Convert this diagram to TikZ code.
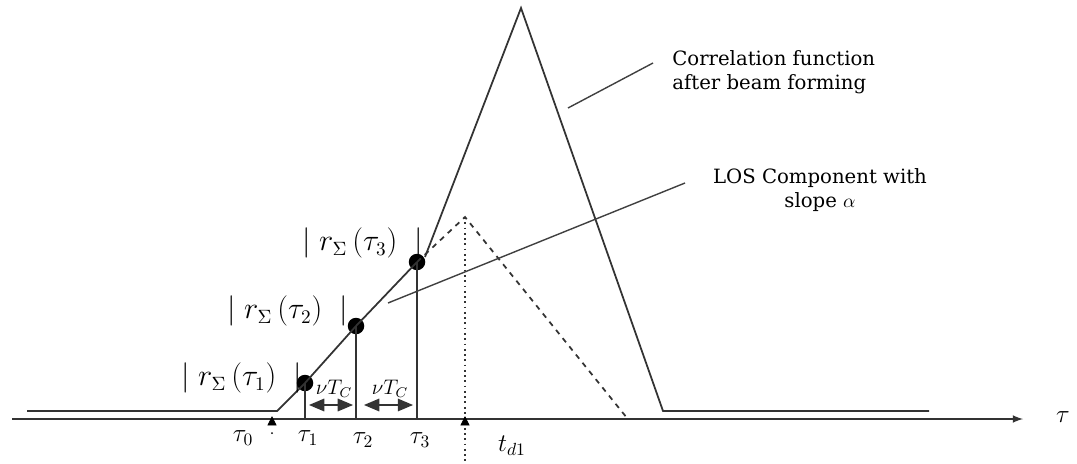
\documentclass[tikz,border=0pt]{standalone}
\usepackage{fontspec}
\setmainfont{DejaVu Serif}
\usetikzlibrary{calc, positioning, arrows}

\begin{document}
\begin{tikzpicture}[
    x=0.02cm, y=-0.02cm,
    curve/.style={line width=1pt, black!80},
    leader/.style={line width=0.8pt, black!75},
    dot/.style={circle, fill=black, inner sep=0pt, minimum size=0.33cm},
    note/.style={font=\fontsize{11.2}{13.5}\selectfont, align=left, inner sep=0pt},
    rlabel/.style={font=\fontsize{16}{18}\selectfont, inner sep=0pt, anchor=west},
    ticklabel/.style={font=\Large, inner sep=0pt},
    marker/.style={fill=black, inner sep=0pt}
]
    \useasboundingbox (0,0) rectangle (1077,463);

    % 1. Eixo e linha de base
    \coordinate (O) at (12,419);
    \coordinate (E) at (1023,419);
    \draw[curve, -latex] (O) -- (E);
    \node[ticklabel] (tau) at (1063,417) {$\tau$};

    \coordinate (L0) at (27,411);
    \coordinate (R0) at (277,411);
    \coordinate (F) at (663,411);
    \coordinate (L1) at (929,411);

    % 2. Pontos da rampa (componente LOS)
    \node[dot] (P1) at (305,383) {};
    \node[dot] (P2) at (356,326) {};
    \node[dot] (P3) at (417,262) {};

    % 3. Funcao de correlacao apos beam forming
    \coordinate (K) at (425,257);
    \coordinate (T) at (521,8);
    \draw[curve] (L0) -- (R0) -- (P1.center) -- (P2.center) -- (P3.center);
    \draw[curve] (K) -- (T) -- (F) -- (L1);

    % 4. Triangulo tracejado
    \coordinate (D) at (465,217);
    \coordinate (G) at (627,418);
    \draw[curve, dashed] (P3.center) -- (D) -- (G);
    \coordinate (Dlow) at (465,463);
    \draw[curve, dotted, line width=1.3pt] (D) -- (Dlow);

    % 5. Linhas verticais em tau_1, tau_2, tau_3
    \coordinate (X1) at (305,419);
    \coordinate (X2) at (356,419);
    \coordinate (X3) at (417,419);
    \draw[curve] (X1) -- (P1.center);
    \draw[curve] (X2) -- (P2.center);
    \draw[curve] (X3) -- (P3.center);

    % 6. Setas nu T_C
    \coordinate (A1) at (309,405);
    \coordinate (A2) at (353,405);
    \coordinate (A3) at (364,405);
    \coordinate (A4) at (413,405);
    \draw[curve, triangle 45-triangle 45] (A1) -- (A2);
    \draw[curve, triangle 45-triangle 45] (A3) -- (A4);
    \node[font=\large, inner sep=0pt] (nu1) at (334,389) {$\nu T_C$};
    \node[font=\large, inner sep=0pt] (nu2) at (390,389) {$\nu T_C$};

    % 7. Marcas em tau_0 e t_d1
    \draw[marker] (268,425) -- (272,417) -- (276,425) -- cycle;
    \fill (272,433) circle (1);
    \draw[marker] (461,425) -- (465,417) -- (469,425) -- cycle;

    % 8. Rotulos do eixo
    \node[ticklabel] (t0) at (243,438) {$\tau_0$};
    \node[ticklabel] (t1) at (308,438) {$\tau_1$};
    \node[ticklabel] (t2) at (363,440) {$\tau_2$};
    \node[ticklabel] (t3) at (420,440) {$\tau_3$};
    \node[ticklabel] (td) at (512,446) {$t_{d1}$};

    % 9. Rotulos |r(tau_i)|
    \node[rlabel] (r1) at (181,378) {$|\;r_{\Sigma}\,(\tau_1)\;\;|$};
    \node[rlabel] (r2) at (227,311) {$|\;r_{\Sigma}\,(\tau_2)\;\;|$};
    \node[rlabel] (r3) at (302,243) {$|\;r_{\Sigma}\,(\tau_3)\;\;|$};

    % 10. Textos e linhas de chamada
    \node[note, anchor=north west] (corr) at (672,50)
        {Correlation function\\after beam forming};
    \coordinate (c1) at (568,108);
    \coordinate (c2) at (653,63);
    \draw[leader] (c1) -- (c2);

    \node[note, align=center, anchor=north] (los) at (820,168)
        {LOS Component with\\slope $\alpha$};
    \coordinate (l1) at (388,303);
    \coordinate (l2) at (685,183);
    \draw[leader] (l1) -- (l2);

\end{tikzpicture}
\end{document}
